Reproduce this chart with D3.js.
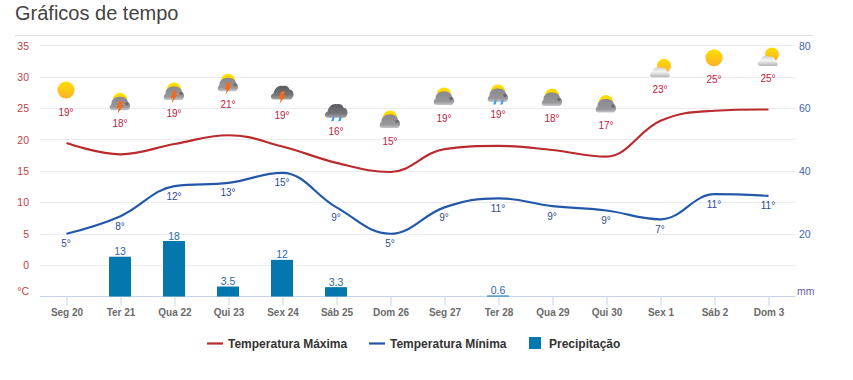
<!DOCTYPE html>
<html><head><meta charset="utf-8">
<script src="https://cdn.jsdelivr.net/npm/d3@7"></script>
<style>
html,body{margin:0;padding:0;background:#fff;overflow:hidden}
svg{display:block;font-family:"Liberation Sans",Arial,sans-serif}
</style></head><body>
<svg id="c" width="853" height="380"></svg>
<script>
const days=["Seg 20","Ter 21","Qua 22","Qui 23","Sex 24","Sáb 25","Dom 26","Seg 27","Ter 28","Qua 29","Qui 30","Sex 1","Sáb 2","Dom 3"];
const tempMax=[19.46,17.66,19.3,20.7,18.9,16.3,14.84,18.5,19,18.35,17.3,23,24.6,24.8];
const tempMin=[5,7.8,12.6,13.1,14.7,9.2,5,9.2,10.65,9.4,8.7,7.3,11.3,11.05];
const labelMax=[19,18,19,21,19,16,15,19,19,18,17,23,25,25];
const labelMin=[5,8,12,13,15,9,5,9,11,9,9,7,11,11];
const rain=[null,13,18,3.5,12,3.3,null,null,0.6,null,null,null,null,null];
const icons=["sun","stormSun","stormSun","stormSun","stormDark","rainDark","cloudSun","cloudSun","rainSun","cloudSun","cloudSun","partly","sun","partly"];
const tempTicks=[0,5,10,15,20,25,30,35];
const allGrid=[-5,0,5,10,15,20,25,30,35];
const rainTicks=[20,40,60,80];

const svg=d3.select("#c");
const x=d3.scalePoint().domain(days).range([66.5,768.5]);
const yT=d3.scaleLinear().domain([-5,35]).range([296.5,45.5]);
const yR=d3.scaleLinear().domain([0,80]).range([296.5,45.5]);
const crisp=v=>Math.floor(v+0.3)+0.5;

// Highcharts-style spline
function splineCurve(ctx){
  let pts=[];
  return {
    areaStart(){},areaEnd(){},
    lineStart(){pts=[];},
    point(a,b){pts.push([+a,+b]);},
    lineEnd(){
      const s=1.5,d=2.5,c=[];
      pts.forEach((p,i)=>{
        const l=pts[i-1],n=pts[i+1];
        if(!l||!n){c.push({lx:p[0],ly:p[1],rx:p[0],ry:p[1]});return;}
        const lx=(s*p[0]+l[0])/d,rx=(s*p[0]+n[0])/d;
        let ly=(s*p[1]+l[1])/d,ry=(s*p[1]+n[1])/d;
        const k=((ry-ly)*(rx-p[0]))/(rx-lx)+p[1]-ry;
        ly+=k;ry+=k;
        if(ly>l[1]&&ly>p[1]){ly=Math.max(l[1],p[1]);ry=2*p[1]-ly;}
        else if(ly<l[1]&&ly<p[1]){ly=Math.min(l[1],p[1]);ry=2*p[1]-ly;}
        if(ry>n[1]&&ry>p[1]){ry=Math.max(n[1],p[1]);ly=2*p[1]-ry;}
        else if(ry<n[1]&&ry<p[1]){ry=Math.min(n[1],p[1]);ly=2*p[1]-ry;}
        c.push({lx,ly,rx,ry});
      });
      pts.forEach((p,i)=>{
        if(i===0){ctx.moveTo(p[0],p[1]);return;}
        ctx.bezierCurveTo(c[i-1].rx,c[i-1].ry,c[i].lx,c[i].ly,p[0],p[1]);
      });
    }
  };
}

// defs
const defs=svg.append("defs");
function lin(id,stops){
  const g=defs.append("linearGradient").attr("id",id).attr("x1",0).attr("y1",0).attr("x2",0).attr("y2",1);
  stops.forEach(s=>g.append("stop").attr("offset",s[0]).attr("stop-color",s[1]));
}
lin("gSun",[[0,"#ffdf00"],[1,"#fbb12a"]]);
lin("gTop",[[0,"#ffe000"],[1,"#f5c400"]]);
lin("gCloud",[[0,"#88888c"],[0.75,"#98989c"],[1,"#c8c8cc"]]);
lin("gDark",[[0,"#5c5c60"],[0.7,"#77777b"],[1,"#a8a8ac"]]);
lin("gWhite",[[0,"#cfcfcf"],[0.45,"#f4f4f4"],[1,"#b4b4b4"]]);

// title
svg.append("text").attr("x",15).attr("y",20).attr("font-size",20).attr("fill","#444").text("Gráficos de tempo");
svg.append("line").attr("x1",15).attr("x2",813).attr("y1",35.5).attr("y2",35.5).attr("stroke","#dcdcdc");

// grid
svg.append("g").selectAll("line").data(allGrid.slice(1)).join("line")
  .attr("x1",40).attr("x2",795.5)
  .attr("y1",d=>crisp(yT(d))).attr("y2",d=>crisp(yT(d)))
  .attr("stroke","#ececec");

// axis
const gx=svg.append("g").attr("transform",`translate(0,${crisp(yT(-5))})`)
  .call(d3.axisBottom(x).tickSize(9).tickPadding(3));
gx.select(".domain").attr("d","M40,0H795.5").attr("stroke","#c6d3ea");
gx.selectAll(".tick line").attr("stroke","#c6d3ea");
gx.selectAll("text").attr("font-family","Liberation Sans").attr("font-size",10).attr("font-weight",700).attr("fill","#6b6b6b");

// y axis labels
svg.append("g").selectAll("text").data(tempTicks).join("text")
  .attr("x",29).attr("y",d=>yT(d)+4).attr("text-anchor","end").attr("font-size",10.5).attr("fill","#c4413f").text(d=>d);
svg.append("text").attr("x",29).attr("y",295).attr("text-anchor","end").attr("font-size",10.5).attr("fill","#c4413f").text("°C");
svg.append("g").selectAll("text").data(rainTicks).join("text")
  .attr("x",799).attr("y",d=>yR(d)+4).attr("font-size",10.5).attr("fill","#3f66b0").text(d=>d);
svg.append("text").attr("x",797).attr("y",295).attr("font-size",10.5).attr("fill","#6a5ca8").text("mm");

// bars
const rainData=days.map((d,i)=>({d,v:rain[i]})).filter(o=>o.v!=null);
svg.append("g").selectAll("rect").data(rainData).join("rect")
  .attr("x",o=>x(o.d)-11.5).attr("width",22)
  .attr("y",o=>Math.min(yR(o.v)+1,295.5)).attr("height",o=>Math.max(1,296.5-yR(o.v)-1))
  .attr("fill","#0377ae");
svg.append("g").selectAll("text").data(rainData).join("text")
  .attr("x",o=>x(o.d)-0.5).attr("y",o=>yR(o.v)-0.5).attr("text-anchor","middle")
  .attr("font-size",10.5).attr("fill","#2a6aa8").text(o=>o.v);

// lines
const line=(arr)=>d3.line().x((v,i)=>x(days[i])).y(v=>yT(v)).curve(splineCurve)(arr);
svg.append("path").attr("d",line(tempMax)).attr("fill","none").attr("stroke","#bb2a2e").attr("stroke-width",2.2);
svg.append("path").attr("d",line(tempMin)).attr("fill","none").attr("stroke","#2358a8").attr("stroke-width",2.2);

// labels
svg.append("g").selectAll("text").data(labelMax).join("text")
  .attr("x",(v,i)=>x(days[i])-0.5).attr("y",(v,i)=>yT(tempMax[i])-27.5).attr("text-anchor","middle")
  .attr("font-size",10).attr("fill","#c4183c").text(v=>v+"°");
svg.append("g").selectAll("text").data(labelMin).join("text")
  .attr("x",(v,i)=>x(days[i])-0.5).attr("y",(v,i)=>yT(tempMin[i])+13.5).attr("text-anchor","middle")
  .attr("font-size",10).attr("fill","#2c4a96").text(v=>v+"°");

// icons
const cloudPath="M-7.5,9 C-11,9 -11,4.2 -8.5,3 C-9,-2 -5,-4.5 0,-4.5 C5,-4.5 8,-2 8,1 C10.5,1.5 11,7 8,9 Z";
const darkPath="M-8,8 C-12,8 -12,3 -8.5,2 C-8,-3 -3,-7 1,-5.5 C4,-6.5 7,-4.5 7.5,-2 C11,-2 13,3 10.5,6 C10,7.5 9,8 8,8 Z";
function sunTop(g){g.append("circle").attr("cy",-1.5).attr("r",7).attr("fill","url(#gTop)");}
function cloud(g){
  g.append("path").attr("d",cloudPath).attr("fill","url(#gCloud)");
  g.append("circle").attr("cx",7).attr("cy",2.5).attr("r",1.8).attr("fill","#6c6c70");
}
function bolt(g){
  g.append("path").attr("d","M-1,0 L3.2,0 L1.4,3.6 L3.6,3.6 L-2.5,12.5 L-1,7 L-3.4,7 Z").attr("fill","#f4691c");
}
function drops(g){
  [-4,3].forEach(dx=>g.append("path")
   .attr("d",`M${dx+0.6},7 L${dx+2.8},7 L${dx+1.6},11.5 L${dx-0.8},11.5 Z`).attr("fill","#3f9cf4"));
}
const drawIcon={
  sun(g){g.append("circle").attr("r",8.6).attr("fill","url(#gSun)");},
  stormSun(g){sunTop(g);cloud(g);bolt(g);},
  stormDark(g){g.attr("transform",g.attr("transform")+" translate(0,-2)");g.append("path").attr("d",darkPath).attr("fill","url(#gDark)");bolt(g);},
  rainDark(g){g.attr("transform",g.attr("transform")+" translate(0,0)");g.append("path").attr("d",darkPath).attr("fill","url(#gDark)");drops(g);},
  cloudSun(g){sunTop(g);cloud(g);},
  rainSun(g){sunTop(g);cloud(g);drops(g);},
  partly(g){
    g.append("circle").attr("cx",4).attr("cy",-2).attr("r",7).attr("fill","url(#gSun)");
    g.append("path").attr("d","M-7.5,9.5 C-11,9.5 -11,5 -7.5,3.5 C-6.5,-0.5 -2,-2 1,0.5 C3.5,-1 7.5,1.5 7,4 C9.5,4 10.5,8 9,9.5 Z").attr("fill","url(#gWhite)");
  }
};
icons.forEach((k,i)=>{
  const g=svg.append("g").attr("transform",`translate(${x(days[i])-0.5},${yT(tempMax[i])-53})`);
  drawIcon[k](g);
});

// legend
const lg=svg.append("g").attr("font-size",12).attr("font-weight",700).attr("fill","#333");
const legend=[["Temperatura Máxima","#bb2a2e",228],["Temperatura Mínima","#2358a8",390]];
legend.forEach(l=>{
  lg.append("line").attr("x1",l[2]-21).attr("x2",l[2]-5).attr("y1",343.5).attr("y2",343.5).attr("stroke",l[1]).attr("stroke-width",2.2);
  lg.append("text").attr("x",l[2]).attr("y",348).text(l[0]);
});
lg.append("rect").attr("x",529).attr("y",337).attr("width",12).attr("height",12).attr("fill","#0377ae");
lg.append("text").attr("x",549).attr("y",348).text("Precipitação");
</script></body></html>
